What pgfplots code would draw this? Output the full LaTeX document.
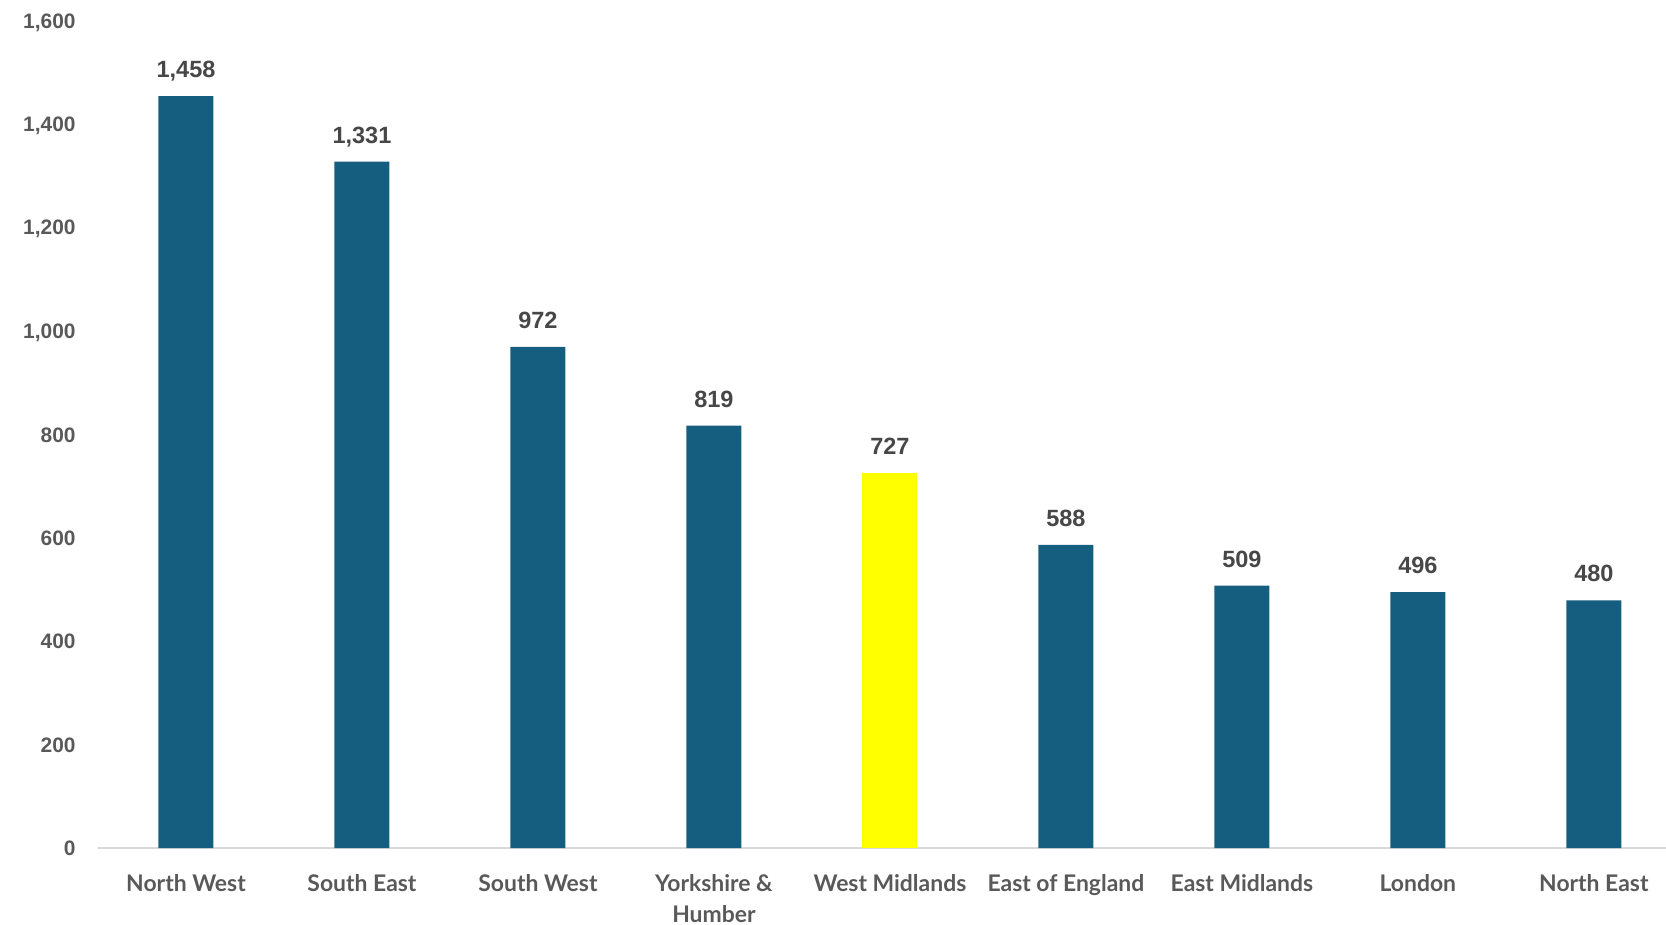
\documentclass[border=0pt]{standalone}
\usepackage{fontspec}
\setmainfont{Liberation Sans}
\newfontfamily\catfont{Lato}
\usepackage{pgfplots}
\pgfplotsset{compat=1.18}
\definecolor{barblue}{HTML}{165E80}
\definecolor{baryellow}{HTML}{FFFF00}
\definecolor{txtgray}{HTML}{595959}
\definecolor{axgray}{HTML}{D9D9D9}
\begin{document}
\begin{tikzpicture}
\begin{axis}[
  scale only axis,
  width=784bp, height=412.5bp,
  xmin=-0.5, xmax=8.41,
  ymin=0, ymax=1600,
  ytick={0,200,...,1600},
  xtick={0,...,8},
  xticklabels={North West,South East,South West,{Yorkshire \&\\Humber},West Midlands,East of England,East Midlands,London,North East},
  axis x line*=bottom,
  axis y line*=left,
  y axis line style={draw=none},
  x axis line style={axgray, line width=1bp},
  major tick length=0pt,
  ytick style={draw=none}, xtick style={draw=none},
  /pgf/number format/assume math mode=true,
  /pgf/number format/1000 sep={,},
  yticklabel style={font=\bfseries\fontsize{10.5}{12}\selectfont, text=txtgray, anchor=east, inner sep=0pt, xshift=-11bp},
  xticklabel style={font=\catfont\bfseries\fontsize{11.5}{15.5}\selectfont, text=txtgray, align=center, anchor=north, inner sep=0pt, yshift=-13bp},
  yticklabel={\pgfmathprintnumber{\tick}},
  ybar, bar width=27.5bp, bar shift=0pt,
  clip=false,
  nodes near coords,
  every node near coord/.append style={font=\bfseries\fontsize{11.8}{13}\selectfont, text=txtgray!80!black, anchor=base, inner sep=0pt, yshift=9.25bp, /pgf/number format/1000 sep={,}},
]
\addplot[fill=barblue, draw=none] coordinates {(0,1458) (1,1331) (2,972) (3,819) (5,588) (6,509) (7,496) (8,480)};
\addplot[fill=baryellow, draw=none] coordinates {(4,727)};
\end{axis}
\pgfresetboundingbox
\path (-49bp,-38.5bp) rectangle (784bp,424bp);
\end{tikzpicture}
\end{document}
